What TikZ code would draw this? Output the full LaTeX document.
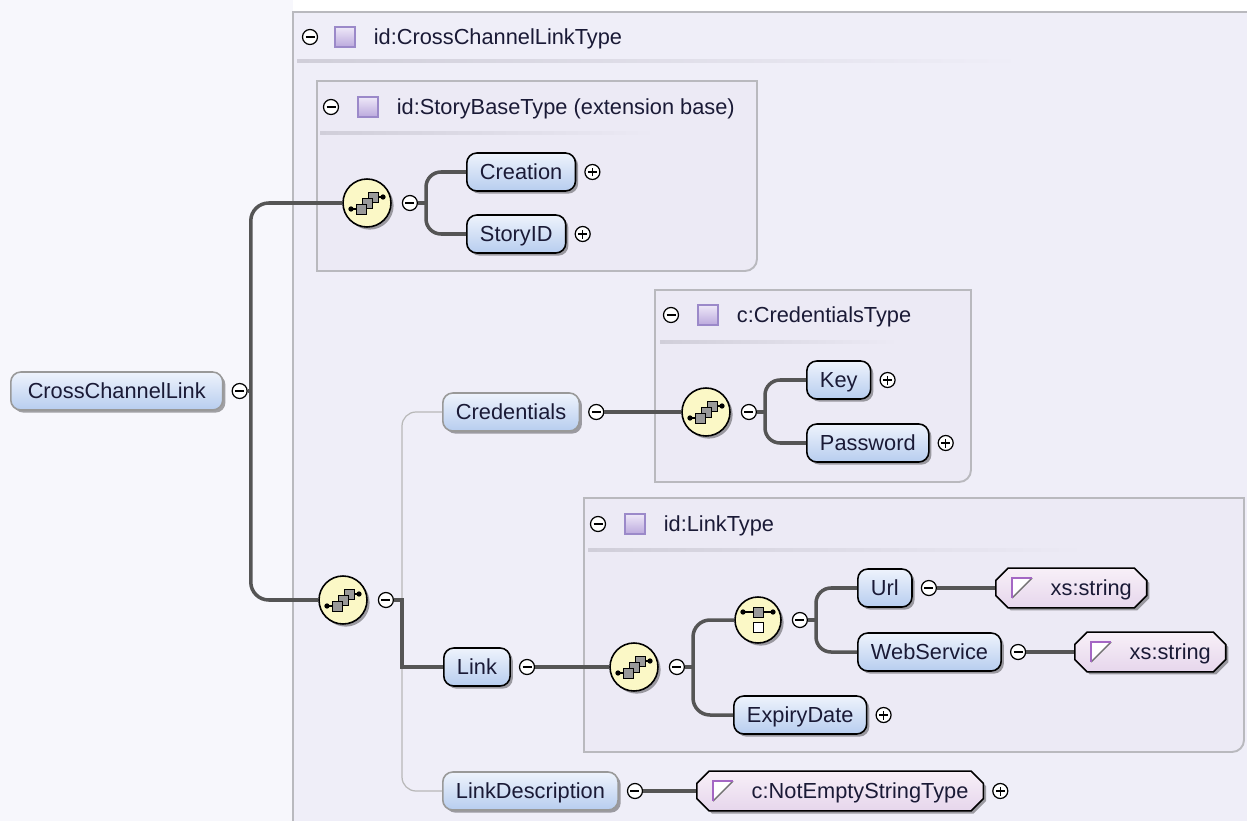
\documentclass[tikz,border=0pt]{standalone}
\usepackage{fontspec}
\setmainfont{Liberation Sans}
\usetikzlibrary{positioning,shapes.misc,shadows}
\definecolor{pagebg}{HTML}{F7F7FC}
\definecolor{outerbg}{HTML}{EFEEF8}
\definecolor{innerbg}{HTML}{ECEAF5}
\definecolor{framegray}{HTML}{B9B9BE}
\definecolor{sepclr}{HTML}{D0CED9}
\definecolor{connclr}{HTML}{555555}
\definecolor{elttop}{HTML}{EEF3FC}
\definecolor{eltbot}{HTML}{B7CDEF}
\definecolor{compfill}{HTML}{FBF8C6}
\definecolor{typetop}{HTML}{F8F0F8}
\definecolor{typebot}{HTML}{E6D6EC}
\definecolor{sqtop}{HTML}{EEE8F8}
\definecolor{sqbot}{HTML}{BBA9DD}
\definecolor{sqedge}{HTML}{9B89C9}
\definecolor{txtclr}{HTML}{1A1A36}
\definecolor{triedge}{HTML}{A467C4}
\newcommand{\xsdfont}{\fontsize{12.4}{14}\selectfont}
\tikzset{
  conn/.style={draw=connclr,line width=2pt},
  optconn/.style={draw=black!28,line width=0.7pt},
  boxframe/.style={draw=framegray,line width=1.1pt},
  shadowed/.style={drop shadow={shadow xshift=1.5pt,shadow yshift=-1.5pt,
    opacity=0.35,fill=black}},
  elbox/.style={rectangle,rounded corners=0.2cm,draw=black,line width=0.9pt,
    top color=elttop,bottom color=eltbot,minimum height=0.76cm,inner xsep=7.5pt,
    text height=8.9pt,text depth=0pt,text=txtclr,font=\xsdfont,shadowed},
  optbox/.style={elbox,draw=black!40},
  compo/.style={circle,draw=black,line width=0.9pt,fill=compfill,
    minimum size=0.96cm,inner sep=0pt,shadowed},
  typebox/.style={chamfered rectangle,chamfered rectangle xsep=3.5pt,draw=black,
    line width=0.9pt,top color=typetop,bottom color=typebot,minimum height=0.76cm,
    inner xsep=5pt,text height=8.9pt,text depth=0pt,text=txtclr,font=\xsdfont,shadowed},
  pmbase/.style={circle,draw=black,fill=white,line width=0.7pt,minimum size=0.3cm,
    inner sep=0pt},
  mnode/.style={pmbase,path picture={\draw[line width=0.7pt]
    ([xshift=-0.09cm]path picture bounding box.center) --
    ([xshift=0.09cm]path picture bounding box.center);}},
  pnode/.style={pmbase,path picture={\draw[line width=0.7pt]
    ([xshift=-0.09cm]path picture bounding box.center) --
    ([xshift=0.09cm]path picture bounding box.center)
    ([yshift=-0.09cm]path picture bounding box.center) --
    ([yshift=0.09cm]path picture bounding box.center);}},
  hdrsq/.style={rectangle,minimum size=0.4cm,inner sep=0pt,draw=sqedge,
    line width=0.8pt,top color=sqtop,bottom color=sqbot},
  hdrtxt/.style={inner sep=0pt,text height=8.9pt,text depth=0pt,text=txtclr,
    font=\xsdfont},
  seqicon/.pic={
    \draw[line width=0.7pt] (-16,6) -- (-7,6) (7,-6) -- (16,-6);
    \fill (-16,6) circle[radius=1.5pt] (16,-6) circle[radius=1.5pt];
    \foreach \d/\e in {6/-6,0/0,-6/6}
      \draw[fill=black!40,line width=0.5pt] (\d-5,\e-5) rectangle (\d+5,\e+5);
  },
  choiceicon/.pic={
    \draw[line width=0.7pt] (-15,-8) -- (15,-8);
    \fill (-15,-8) circle[radius=1.5pt] (15,-8) circle[radius=1.5pt];
    \draw[fill=black!40,line width=0.5pt] (-5,-13) rectangle (5,-3);
    \draw[fill=white,line width=0.5pt] (-5,2) rectangle (5,12);
  },
  typeicon/.pic={
    \fill[white] (-10,-10) -- (10,-10) -- (-10,10) -- cycle;
    \draw[black!55,line width=0.8pt] (10,-10) -- (-10,10);
    \draw[triedge,line width=0.9pt] (10,-10) -- (-10,-10) -- (-10,10);
  },
}
\newcommand{\typetxt}[1]{\hspace*{0.8cm}#1}

\begin{document}
\begin{tikzpicture}[x=0.02cm,y=-0.02cm]
  \useasboundingbox (0,0) rectangle (1247,821);
  \fill[pagebg] (0,0) rectangle (1247,821);
  \fill[white] (293,0) rectangle (1247,12);
  \fill[outerbg] (293,12) rectangle (1247,821);
  \draw[boxframe] (1247,12) -- (293,12) -- (293,821);
  \shade[left color=sepclr,right color=outerbg] (297,60) rectangle (1022,63);
  \node[mnode] (cclt-m) at (310,37) {};
  \node[hdrsq,right=0.32cm of cclt-m] (cclt-sq) {};
  \node[hdrtxt,right=0.36cm of cclt-sq] (cclt-t) {id:CrossChannelLinkType};

  \draw[boxframe,fill=innerbg] (317,81) -- (757,81) -- (757,259)
    arc[start angle=0,end angle=-90,radius=0.24cm] -- (317,271) -- cycle;
  \shade[left color=sepclr,right color=innerbg] (320,131) rectangle (655,134);
  \node[mnode] (sbt-m) at (331,107) {};
  \node[hdrsq,right=0.36cm of sbt-m] (sbt-sq) {};
  \node[hdrtxt,right=0.36cm of sbt-sq] (sbt-t) {id:StoryBaseType (extension base)};

  \draw[boxframe,fill=innerbg] (655,290) -- (971,290) -- (971,470)
    arc[start angle=0,end angle=-90,radius=0.24cm] -- (655,482) -- cycle;
  \shade[left color=sepclr,right color=innerbg] (660,340) rectangle (898,343);
  \node[mnode] (ct-m) at (671,315) {};
  \node[hdrsq,right=0.36cm of ct-m] (ct-sq) {};
  \node[hdrtxt,right=0.36cm of ct-sq] (ct-t) {c:CredentialsType};

  \draw[boxframe,fill=innerbg] (584,498) -- (1244,498) -- (1244,740)
    arc[start angle=0,end angle=-90,radius=0.24cm] -- (584,752) -- cycle;
  \shade[left color=sepclr,right color=innerbg] (588,548) rectangle (1085,551);
  \node[mnode] (lt-m) at (598,524) {};
  \node[hdrsq,right=0.36cm of lt-m] (lt-sq) {};
  \node[hdrtxt,right=0.36cm of lt-sq] (lt-t) {id:LinkType};

  \node[optbox,anchor=west,minimum width=4.24cm] (root) at (10,391) {CrossChannelLink};
  \node[mnode,right=0.16cm of root] (root-m) {};
  \coordinate[right=0.06cm of root-m] (root-b);

  \node[compo] (seq1) at (367,203) {};
  \pic at (seq1) {seqicon};
  \node[mnode,right=0.2cm of seq1] (seq1-m) {};
  \coordinate[right=0.16cm of seq1-m] (seq1-b);
  \node[elbox,anchor=west] (creation) at (466,172) {Creation};
  \node[pnode,right=0.16cm of creation] (creation-p) {};
  \node[elbox,anchor=west] (storyid) at (466,234) {StoryID};
  \node[pnode,right=0.16cm of storyid] (storyid-p) {};

  \node[compo] (seq2) at (343,600) {};
  \pic at (seq2) {seqicon};
  \node[mnode,right=0.2cm of seq2] (seq2-m) {};
  \coordinate[right=0.16cm of seq2-m] (seq2-b);

  \node[optbox,anchor=west] (cred) at (442,412) {Credentials};
  \node[mnode,right=0.16cm of cred] (cred-m) {};
  \node[compo] (seq3) at (706,412) {};
  \pic at (seq3) {seqicon};
  \node[mnode,right=0.2cm of seq3] (seq3-m) {};
  \coordinate[right=0.16cm of seq3-m] (seq3-b);
  \node[elbox,anchor=west] (key) at (806,380) {Key};
  \node[pnode,right=0.16cm of key] (key-p) {};
  \node[elbox,anchor=west] (password) at (806,443) {Password};
  \node[pnode,right=0.16cm of password] (password-p) {};

  \node[elbox,anchor=west] (link) at (443,667) {Link};
  \node[mnode,right=0.16cm of link] (link-m) {};
  \node[compo] (seq4) at (634,667) {};
  \pic at (seq4) {seqicon};
  \node[mnode,right=0.2cm of seq4] (seq4-m) {};
  \coordinate[right=0.16cm of seq4-m] (seq4-b);
  \node[compo,minimum size=0.92cm] (choice) at (758,620) {};
  \pic at (choice) {choiceicon};
  \node[mnode,right=0.2cm of choice] (choice-m) {};
  \coordinate[right=0.16cm of choice-m] (choice-b);
  \node[elbox,anchor=west] (url) at (857,588) {Url};
  \node[mnode,right=0.16cm of url] (url-m) {};
  \node[typebox,anchor=west] (xs1) at (995,588) {\typetxt{xs:string}};
  \pic at ([xshift=0.54cm]xs1.west) {typeicon};
  \node[elbox,anchor=west] (websvc) at (857,652) {WebService};
  \node[mnode,right=0.16cm of websvc] (websvc-m) {};
  \node[typebox,anchor=west] (xs2) at (1074,652) {\typetxt{xs:string}};
  \pic at ([xshift=0.54cm]xs2.west) {typeicon};
  \node[elbox,anchor=west] (expiry) at (733,715) {ExpiryDate};
  \node[pnode,right=0.16cm of expiry] (expiry-p) {};

  \node[optbox,anchor=west] (linkdesc) at (442,791) {LinkDescription};
  \node[mnode,right=0.16cm of linkdesc] (linkdesc-m) {};
  \node[typebox,anchor=west] (nestr) at (696,791) {\typetxt{c:NotEmptyStringType}};
  \pic at ([xshift=0.54cm]nestr.west) {typeicon};
  \node[pnode,right=0.16cm of nestr] (nestr-p) {};

  \draw[conn] (root-m.east) -- (root-b);
  \draw[conn,rounded corners=0.36cm] (seq1.west) -| (root-b) |- (seq2.west);
  \draw[conn] (seq1-m.east) -- (seq1-b);
  \draw[conn,rounded corners=0.3cm] (creation.west) -| (seq1-b) |- (storyid.west);
  \draw[optconn,rounded corners=0.28cm] (cred.west) -| (seq2-b) |- (linkdesc.west);
  \draw[conn] (seq2-m.east) -- (seq2-b) |- (link.west);
  \draw[conn] (cred-m.east) -- (seq3.west);
  \draw[conn] (seq3-m.east) -- (seq3-b);
  \draw[conn,rounded corners=0.3cm] (key.west) -| (seq3-b) |- (password.west);
  \draw[conn] (link-m.east) -- (seq4.west);
  \draw[conn] (seq4-m.east) -- (seq4-b);
  \draw[conn,rounded corners=0.34cm] (choice.west) -| (seq4-b) |- (expiry.west);
  \draw[conn] (choice-m.east) -- (choice-b);
  \draw[conn,rounded corners=0.3cm] (url.west) -| (choice-b) |- (websvc.west);
  \draw[conn] (url-m.east) -- (xs1.west);
  \draw[conn] (websvc-m.east) -- (xs2.west);
  \draw[conn] (linkdesc-m.east) -- (nestr.west);
\end{tikzpicture}
\end{document}
